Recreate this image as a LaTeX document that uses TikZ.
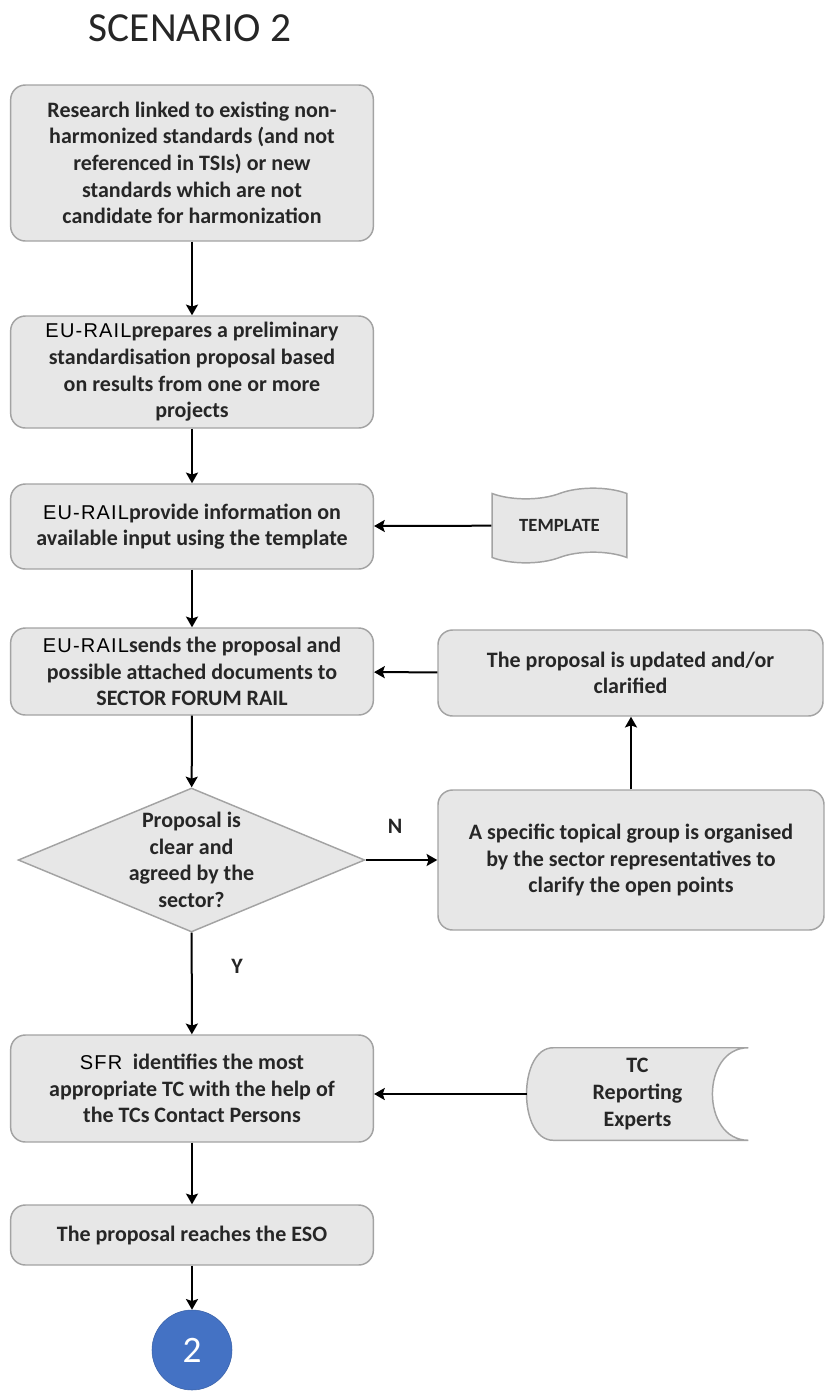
\documentclass[tikz,border=0pt]{standalone}
\usepackage{fontspec}
\setmainfont{Carlito}
\newfontfamily\eufont[LetterSpace=6]{Liberation Sans}
\usetikzlibrary{shapes.geometric, shapes.symbols, arrows.meta}
\definecolor{boxfill}{HTML}{E7E7E7}
\definecolor{boxline}{HTML}{A3A3A3}
\definecolor{txt}{HTML}{262626}
\definecolor{endblue}{HTML}{4472C4}
\newcommand{\acr}[1]{{\eufont\mdseries\fontsize{15}{20}\selectfont\color{black}#1}}

\begin{document}
\begin{tikzpicture}[x=0.75pt, y=-0.75pt,
    box/.style={rectangle, draw=boxline, fill=boxfill, rounded corners=11pt, line width=1.1pt,
        align=center, minimum width=272pt, font=\fontsize{16.5}{20}\selectfont\bfseries, text=txt},
    decision/.style={diamond, draw=boxline, fill=boxfill, line width=1.1pt, inner sep=0pt,
        minimum width=260pt, minimum height=108pt},
    plain/.style={align=center, font=\fontsize{16.5}{20}\selectfont\bfseries, text=txt},
    arrow/.style={-{Stealth[length=8pt, width=9pt, inset=1.5pt]}, line width=1.5pt}
]
    \useasboundingbox (0,0) rectangle (825,1393);
    \node[font=\fontsize{31}{36}\selectfont, text=txt] (title) at (190,28) {SCENARIO 2};

    \node[box, minimum height=117pt] (b1) at (192,163) {Research linked to existing non-\\harmonized standards (and not\\referenced in TSIs) or new\\standards which are not\\candidate for harmonization};
    \node[box, minimum height=84pt] (b2) at (192,372) {\acr{EU-RAIL}prepares a preliminary\\standardisation proposal based\\on results from one or more\\projects};
    \node[box, minimum height=63.75pt] (b3) at (192,526.5) {\acr{EU-RAIL}provide information on\\available input using the template};
    \node[box, minimum height=65.25pt] (b4) at (192,671.5) {\acr{EU-RAIL}sends the proposal and\\possible attached documents to\\SECTOR FORUM RAIL};
    \node[decision] (dec) at (191.5,860) {};
    \node[plain] (dectext) at (dec) {Proposal is\\clear and\\agreed by the\\sector?};
    \node[box, minimum width=289.5pt, minimum height=105pt] (b6) at (631,860) {A specific topical group is organised\\by the sector representatives to\\clarify the open points};
    \node[box, minimum width=288.75pt, minimum height=64.5pt] (b5) at (630.5,673) {The proposal is updated and/or\\clarified};
    \node[box, minimum height=80.25pt] (b7) at (192,1088.5) {\acr{SFR}\hspace{8pt}identifies the most\\appropriate TC with the help of\\the TCs Contact Persons};
    \node[box, minimum height=45pt] (b8) at (192,1235) {The proposal reaches the ESO};
    \node[circle, draw=endblue!85!black, fill=endblue, minimum size=60pt, text=white,
        font=\fontsize{28}{32}\selectfont] (c2) at (192,1350) {2};

    % inputs on the right
    \node[tape, draw=boxline, fill=boxfill, line width=1.1pt, minimum width=101pt, minimum height=56pt,
        tape bend height=8pt, font=\fontsize{14}{18}\selectfont\bfseries, text=txt] (tmpl) at (559.5,525.5) {TEMPLATE};
    \node[plain, minimum width=166pt, minimum height=69pt] (tc) at (637.5,1094) {TC\\Reporting\\Experts};
    \draw[draw=boxline, fill=boxfill, line width=1.1pt]
        ([xshift=20pt]tc.north west) -- (tc.north east)
        .. controls ([xshift=-36pt]tc.north east) and ([xshift=-36pt]tc.south east) .. (tc.south east)
        -- ([xshift=20pt]tc.south west)
        .. controls ([xshift=-6.7pt]tc.south west) and ([xshift=-6.7pt]tc.north west) .. cycle;
    \node[plain] at (tc) {TC\\Reporting\\Experts};

    \node[plain] (nlab) at (395,826) {N};
    \node[plain] (ylab) at (237,966) {Y};

    \draw[arrow] (b1) -- (b2);
    \draw[arrow] (b2) -- (b3);
    \draw[arrow] (b3) -- (b4);
    \draw[arrow] (b4) -- (dec);
    \draw[arrow] (dec) -- (b6);
    \draw[arrow] (b6.north) -- (b6.north |- b5.south);
    \draw[arrow] (b5) -- (b4);
    \draw[arrow] (dec) -- (b7);
    \draw[arrow] (tmpl) -- (b3);
    \draw[arrow] (tc.west) -- (b7.east |- tc.west);
    \draw[arrow] (b7) -- (b8);
    \draw[arrow] (b8) -- (c2);
\end{tikzpicture}
\end{document}
